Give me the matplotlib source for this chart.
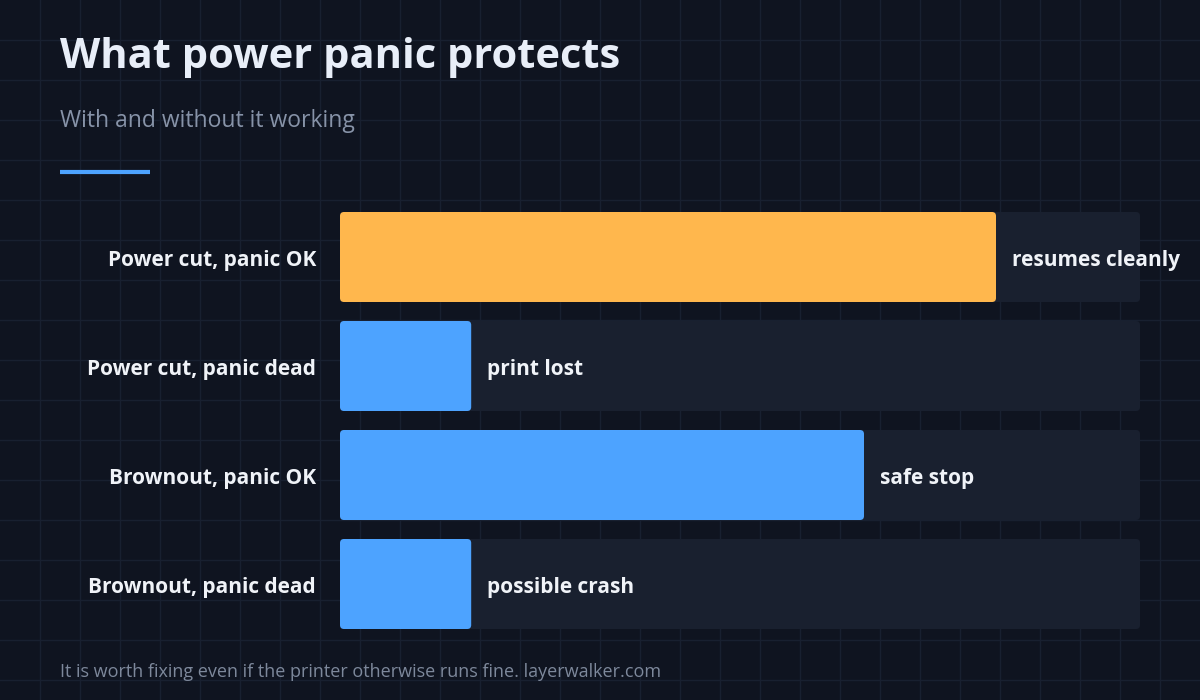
import matplotlib
matplotlib.use("Agg")
import matplotlib.pyplot as plt
from matplotlib.patches import FancyBboxPatch

# ── Données ──────────────────────────────────────────────
categories = ["Power cut, panic OK", "Power cut, panic dead",
              "Brownout, panic OK", "Brownout, panic dead"]
valeurs = [82, 16.4, 65.5, 16.4]
etiquettes = ["resumes cleanly", "print lost", "safe stop", "possible crash"]
couleurs = ["#ffb74d", "#4da3ff", "#4da3ff", "#4da3ff"]

FOND = "#0f1420"
PISTE = "#19202f"
GRILLE = "#182030"
W, H = 1200, 700

plt.rcParams["font.family"] = ["Open Sans", "DejaVu Sans"]
fig = plt.figure(figsize=(W / 100, H / 100), dpi=100, facecolor=FOND)

# fond + grille en pixels
bg = fig.add_axes([0, 0, 1, 1])
bg.set_xlim(0, W)
bg.set_ylim(H, 0)
bg.axis("off")
bg.set_facecolor(FOND)
for g in range(40, W, 40):
    bg.axvline(g, color=GRILLE, lw=1, zorder=0)
for g in range(40, H, 40):
    bg.axhline(g, color=GRILLE, lw=1, zorder=0)

bg.text(60, 57, "What power panic protects", color="#e8eef8", fontsize=30,
        fontweight="bold", va="center")
bg.text(60, 121, "With and without it working", color="#8793a8", fontsize=16.5,
        va="center")
bg.plot([60, 150], [172, 172], color="#4da3ff", lw=3, solid_capstyle="butt")
bg.text(60, 672, "It is worth fixing even if the printer otherwise runs fine. layerwalker.com",
        color="#7d889b", fontsize=13, va="center")

# barres
pas = 109
ax = fig.add_axes([340 / W, 1 - 638.5 / H, 800 / W, 436 / H])
ax.set_xlim(0, 100)
ax.set_ylim(3.5, -0.5)
ax.axis("off")
ax.patch.set_alpha(0)
h = 90 / pas
aspect = (1 / pas) / (100 / 800)
barres = ax.barh(range(len(categories)), valeurs, height=h)
for i, b in enumerate(barres):
    b.set_visible(False)
    y0 = b.get_y()
    ax.add_patch(FancyBboxPatch((0, y0), 100, h, boxstyle="round,pad=0,rounding_size=0.5",
                                mutation_aspect=aspect, fc=PISTE, ec="none", zorder=1))
    ax.add_patch(FancyBboxPatch((0, y0), b.get_width(), h,
                                boxstyle="round,pad=0,rounding_size=0.5",
                                mutation_aspect=aspect, fc=couleurs[i], ec="none", zorder=2))
    ax.text(b.get_width() + 2, i + 0.03, etiquettes[i], color="#f0f3f8", fontsize=15,
            fontweight="bold", va="center", zorder=3)
    ax.text(-3, i + 0.03, categories[i], color="#f0f3f8", fontsize=15,
            fontweight="bold", va="center", ha="right", zorder=3)

fig.savefig("out.png", dpi=100, facecolor=FOND)
